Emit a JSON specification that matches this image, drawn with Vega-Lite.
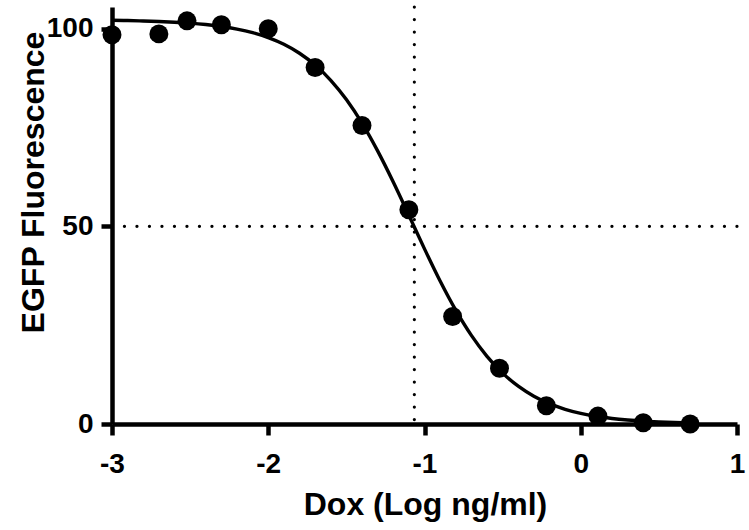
{
  "$schema": "https://vega.github.io/schema/vega-lite/v6.json",
  "autosize": {"type": "none"},
  "padding": {"left": 112, "top": 7, "right": 12, "bottom": 106},
  "width": 625,
  "height": 417,
  "background": "white",
  "datasets": {
    "points": [
      {"x": -3.0, "y": 98.5},
      {"x": -2.7, "y": 98.7},
      {"x": -2.52, "y": 102.0},
      {"x": -2.3, "y": 101.0},
      {"x": -2.0, "y": 100.0},
      {"x": -1.7, "y": 90.2},
      {"x": -1.4, "y": 75.5},
      {"x": -1.1, "y": 54.2},
      {"x": -0.82, "y": 27.2},
      {"x": -0.52, "y": 14.1},
      {"x": -0.22, "y": 4.6},
      {"x": 0.11, "y": 2.0},
      {"x": 0.4, "y": 0.3},
      {"x": 0.7, "y": 0.0}
    ],
    "curve": [
      {"x": -3.0, "y": 102.13},
      {"x": -2.9, "y": 102.07},
      {"x": -2.8, "y": 101.97},
      {"x": -2.7, "y": 101.84},
      {"x": -2.6, "y": 101.66},
      {"x": -2.5, "y": 101.41},
      {"x": -2.4, "y": 101.06},
      {"x": -2.3, "y": 100.58},
      {"x": -2.2, "y": 99.92},
      {"x": -2.1, "y": 99.01},
      {"x": -2.0, "y": 97.76},
      {"x": -1.9, "y": 96.07},
      {"x": -1.8, "y": 93.8},
      {"x": -1.7, "y": 90.81},
      {"x": -1.6, "y": 86.95},
      {"x": -1.5, "y": 82.07},
      {"x": -1.4, "y": 76.11},
      {"x": -1.3, "y": 69.09},
      {"x": -1.2, "y": 61.22},
      {"x": -1.1, "y": 52.81},
      {"x": -1.0, "y": 44.31},
      {"x": -0.9, "y": 36.17},
      {"x": -0.8, "y": 28.8},
      {"x": -0.7, "y": 22.41},
      {"x": -0.6, "y": 17.12},
      {"x": -0.5, "y": 12.87},
      {"x": -0.4, "y": 9.56},
      {"x": -0.3, "y": 7.03},
      {"x": -0.2, "y": 5.14},
      {"x": -0.1, "y": 3.73},
      {"x": 0.0, "y": 2.7},
      {"x": 0.1, "y": 1.95},
      {"x": 0.2, "y": 1.4},
      {"x": 0.3, "y": 1.01},
      {"x": 0.4, "y": 0.72},
      {"x": 0.5, "y": 0.52},
      {"x": 0.6, "y": 0.37},
      {"x": 0.7, "y": 0.27}
    ],
    "vref": [{"x": -1.065}],
    "href": [{"y": 50}]
  },
  "layer": [
    {
      "data": {"name": "curve"},
      "mark": {"type": "line", "color": "black", "strokeWidth": 3.4, "interpolate": "monotone", "clip": false},
      "encoding": {
        "x": {
          "field": "x", "type": "quantitative",
          "scale": {"domain": [-3, 1], "nice": false, "zero": false},
          "title": "Dox (Log ng/ml)",
          "axis": {
            "values": [-3, -2, -1, 0, 1],
            "labelExpr": "'' + datum.value",
            "labelFont": "Liberation Sans",
            "labelFontWeight": "bold",
            "labelFontSize": 28,
            "labelColor": "black",
            "labelBaseline": "alphabetic",
            "labelPadding": 37,
            "labelFlush": false,
            "domainWidth": 4.5,
            "domainColor": "black",
            "tickWidth": 4.5,
            "tickColor": "black",
            "tickSize": 11,
            "titleX": 313,
            "titleY": 90,
            "titleAlign": "center",
            "titleBaseline": "alphabetic"
          }
        },
        "y": {
          "field": "y", "type": "quantitative",
          "scale": {"domain": [0, 105.5], "nice": false},
          "title": "EGFP Fluorescence",
          "axis": {
            "values": [0, 50, 100],
            "labelExpr": "'' + datum.value",
            "labelFont": "Liberation Sans",
            "labelFontWeight": "bold",
            "labelFontSize": 28,
            "labelColor": "black",
            "labelPadding": 8,
            "labelFlush": false,
            "domainWidth": 4.5,
            "domainColor": "black",
            "tickWidth": 4.5,
            "tickColor": "black",
            "tickSize": 11,
            "titleX": -69,
            "titleY": 175,
            "titleAlign": "center",
            "titleBaseline": "alphabetic"
          }
        }
      }
    },
    {
      "data": {"name": "vref"},
      "mark": {"type": "rule", "color": "black", "strokeWidth": 3.2, "strokeCap": "round", "strokeDash": [0.1, 12.4]},
      "encoding": {
        "x": {"field": "x", "type": "quantitative", "title": "Dox (Log ng/ml)"}
      }
    },
    {
      "data": {"name": "href"},
      "mark": {"type": "rule", "color": "black", "strokeWidth": 3.2, "strokeCap": "round", "strokeDash": [0.1, 12.4]},
      "encoding": {
        "y": {"field": "y", "type": "quantitative", "title": "EGFP Fluorescence"}
      }
    },
    {
      "data": {"name": "points"},
      "mark": {"type": "circle", "color": "black", "opacity": 1, "size": 360, "clip": false},
      "encoding": {
        "x": {"field": "x", "type": "quantitative", "title": "Dox (Log ng/ml)"},
        "y": {"field": "y", "type": "quantitative", "title": "EGFP Fluorescence"}
      }
    }
  ],
  "config": {
    "view": {"stroke": null},
    "axis": {
      "grid": false,
      "labelOverlap": false,
      "titleFont": "Liberation Sans",
      "titleFontWeight": "bold",
      "titleFontSize": 32,
      "titleColor": "black"
    }
  }
}
